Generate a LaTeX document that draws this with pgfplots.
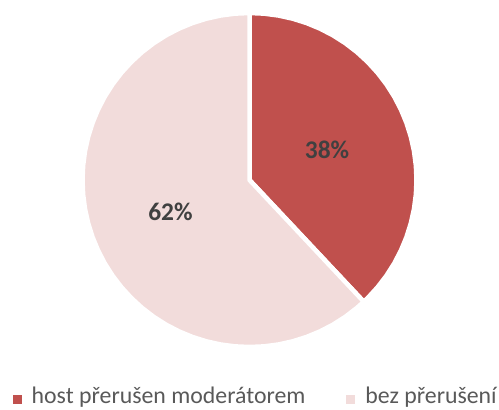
\documentclass[border=0pt]{standalone}
\usepackage{pgfplots}
\pgfplotsset{compat=1.18}
\usepackage{fontspec}
\setmainfont{Carlito}
\definecolor{cred}{HTML}{C0504D}
\definecolor{cpink}{HTML}{F2DCDB}
\definecolor{lgray}{HTML}{595959}
\definecolor{dgray}{HTML}{404040}
\begin{document}
\begin{tikzpicture}
\begin{axis}[
  hide axis, x=1bp, y=1bp,
  xmin=-249.5, xmax=249.5, ymin=-229, ymax=180,
  clip=false,
  legend columns=2,
  legend style={draw=none, fill=none, at={(axis cs:-237,-227)}, anchor=south west,
    inner sep=0pt, font=\fontsize{23.9}{28}\selectfont, text=lgray,
    nodes={inner xsep=10bp, inner ysep=2bp, anchor=base west},
    /tikz/every even column/.append style={column sep=31bp}},
  legend image code/.code={\fill[#1, draw=none] (0bp,-1bp) rectangle (9bp,8bp);},
]
\addplot[fill=cred, draw=white, line width=4.5bp, line join=round, data cs=polar] coordinates {
(0,0) (90,167) (85,167) (80,167) (75,167) (70,167) (65,167) (60,167) (55,167) (50,167)
(45,167) (40,167) (35,167) (30,167) (25,167) (20,167) (15,167) (10,167) (5,167) (0,167)
(-5,167) (-10,167) (-15,167) (-20,167) (-25,167) (-30,167) (-35,167) (-40,167) (-45,167) (-46.8,167)
} -- cycle;
\addlegendentry{host přerušen moderátorem}
\addplot[fill=cpink, draw=white, line width=4.5bp, line join=round, data cs=polar] coordinates {
(0,0) (-46.8,167) (-50,167) (-55,167) (-60,167) (-65,167) (-70,167) (-75,167) (-80,167) (-85,167)
(-90,167) (-95,167) (-100,167) (-105,167) (-110,167) (-115,167) (-120,167) (-125,167) (-130,167)
(-135,167) (-140,167) (-145,167) (-150,167) (-155,167) (-160,167) (-165,167) (-170,167) (-175,167)
(-180,167) (-185,167) (-190,167) (-195,167) (-200,167) (-205,167) (-210,167) (-215,167) (-220,167)
(-225,167) (-230,167) (-235,167) (-240,167) (-245,167) (-250,167) (-255,167) (-260,167) (-265,167) (-270,167)
} -- cycle;
\addlegendentry{bez přerušení}
\node[anchor=base, font=\bfseries\fontsize{25.5}{30}\selectfont, text=dgray, inner sep=0pt] at (axis cs:77.5,21.7) {38\%};
\node[anchor=base, font=\bfseries\fontsize{25.5}{30}\selectfont, text=dgray, inner sep=0pt] at (axis cs:-79,-40) {62\%};
\end{axis}
\pgfresetboundingbox
\path (current axis.south west) rectangle (current axis.north east);
\end{tikzpicture}
\end{document}
